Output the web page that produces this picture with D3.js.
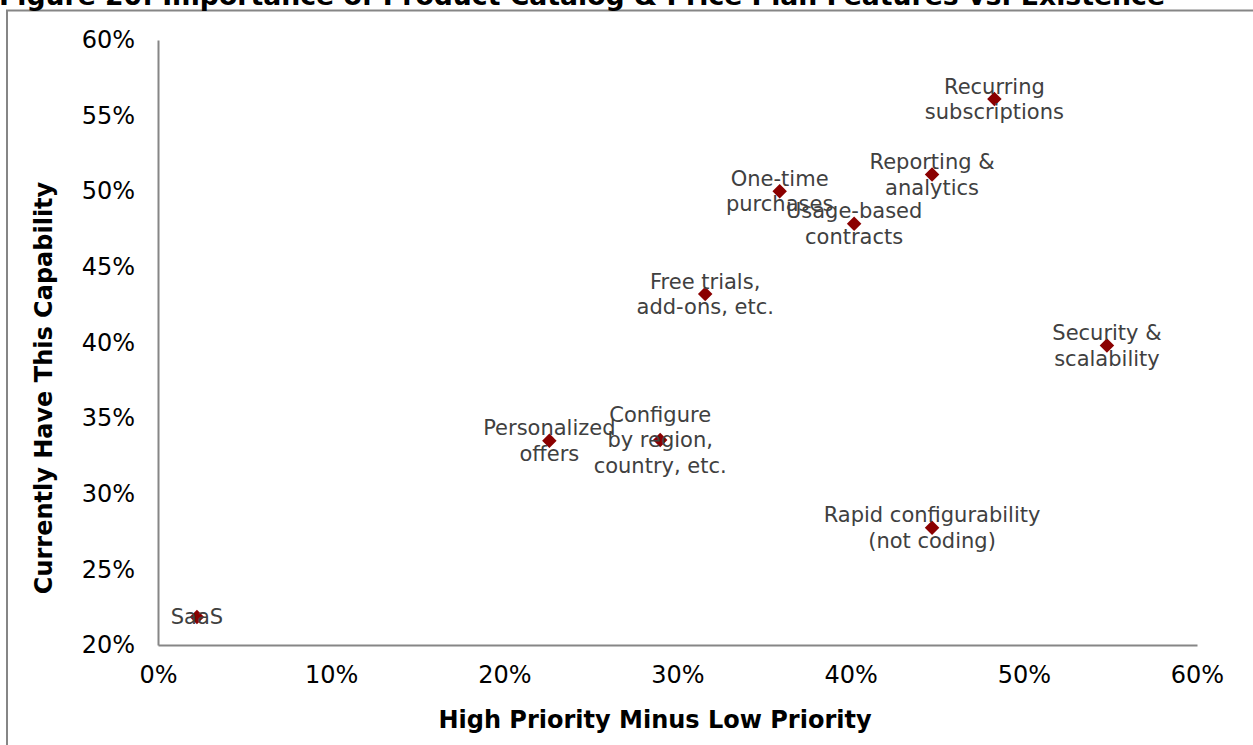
<!DOCTYPE html>
<html><head><meta charset="utf-8">
<script src="https://cdn.jsdelivr.net/npm/d3@7"></script>
<style>body{margin:0;background:#fff;} svg{display:block;font-family:"DejaVu Sans",Verdana,sans-serif;}</style>
</head><body>
<svg id="chart" width="1253" height="745"></svg>
<script>
const labels = [["SaaS"],["Personalized","offers"],["Configure","by region,","country, etc."],["Free trials,","add-ons, etc."],["One-time","purchases"],["Usage-based","contracts"],["Reporting &","analytics"],["Recurring","subscriptions"],["Security &","scalability"],["Rapid configurability","(not coding)"]];
const xValues = [2.25, 22.6, 29.0, 31.6, 35.9, 40.2, 44.7, 48.3, 54.8, 44.7];
const yValues = [21.85, 33.5, 33.55, 43.2, 50.0, 47.85, 51.1, 56.1, 39.8, 27.75];
const xTicks = [0,10,20,30,40,50,60];
const yTicks = [20,25,30,35,40,45,50,55,60];
const title = "Figure 20: Importance of Product Catalog & Price Plan Features vs. Existence";

const svg = d3.select("#chart");
svg.append("rect").attr("x",7).attr("y",10.5).attr("width",1300).attr("height",800)
  .attr("fill","none").attr("stroke","#868686").attr("stroke-width",2);
svg.append("text").attr("x",-1).attr("y",5).attr("font-weight","bold").attr("font-size",26.7).attr("fill","#000").text(title);

const x = d3.scaleLinear().domain([0,60]).range([158,1197]);
const y = d3.scaleLinear().domain([20,60]).range([645,40]);

const xAxis = svg.append("g").attr("transform","translate(0,645)")
  .call(d3.axisBottom(x).tickValues(xTicks).tickSize(0).tickPadding(21).tickFormat(d=>d+"%"));
const yAxis = svg.append("g").attr("transform","translate(158,0)")
  .call(d3.axisLeft(y).tickValues(yTicks).tickSize(0).tickPadding(23).tickFormat(d=>d+"%"));
[xAxis,yAxis].forEach(a=>{
  a.select(".domain").attr("stroke","#868686").attr("stroke-width",2);
  a.selectAll("text").attr("font-size",24).attr("fill","#000").attr("font-family","DejaVu Sans, Verdana, sans-serif");
});

svg.append("text").attr("x",655).attr("y",728).attr("text-anchor","middle")
  .attr("font-weight","bold").attr("font-size",24).text("High Priority Minus Low Priority");
svg.append("text").attr("transform","translate(52,388) rotate(-90)").attr("text-anchor","middle")
  .attr("font-weight","bold").attr("font-size",24).text("Currently Have This Capability");

const data = labels.map((l,i)=>({l, x:xValues[i], y:yValues[i]}));
const lh = 25.5;
svg.append("g").selectAll("path").data(data).join("path")
  .attr("d", d3.symbol(d3.symbolSquare, 105))
  .attr("transform", d=>`translate(${x(d.x)},${y(d.y)}) rotate(45)`)
  .attr("fill","#8b0000");
const lg = svg.append("g").attr("font-size",21).attr("fill","#404040").attr("text-anchor","middle");
data.forEach(d=>{
  const n = d.l.length;
  const t = lg.append("text").attr("x",x(d.x)).attr("y",y(d.y));
  d.l.forEach((s,i)=>{
    t.append("tspan").attr("x",x(d.x)).attr("y", y(d.y) + (i-(n-1)/2)*lh).attr("dy","0.35em").text(s);
  });
});
</script>
</body></html>
